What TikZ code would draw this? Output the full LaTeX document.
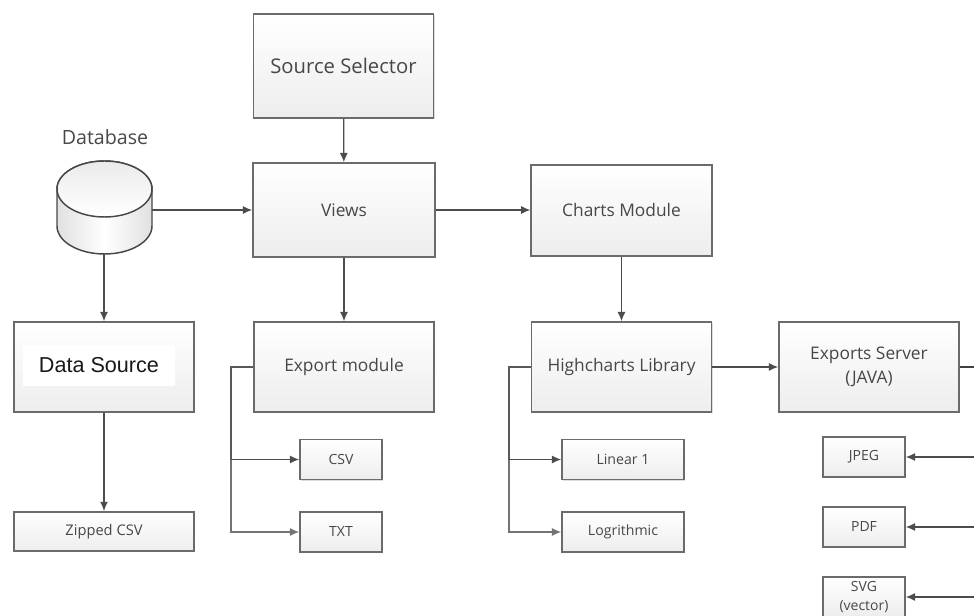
\documentclass[tikz,border=0pt]{standalone}
\usepackage{fontspec}
\setmainfont{Open Sans}
\newfontfamily\arialfont{Liberation Sans}
\usetikzlibrary{arrows.meta,shadows,calc}
\tikzset{
  x=0.75pt,y=-0.75pt,
  boxbase/.style={draw=black!58,line width=1.1pt,rectangle,inner sep=0pt,align=center,text=black!72,
    top color=white,bottom color=black!7,
    drop shadow={shadow xshift=0.9pt,shadow yshift=-0.9pt,fill=black!22,opacity=0.6}},
  bigbox/.style={boxbase,minimum width=135pt,minimum height=67.5pt,font=\fontsize{13}{18}\selectfont},
  smallbox/.style={boxbase,minimum width=61.5pt,minimum height=30pt,font=\fontsize{10.5}{15}\selectfont},
  widebox/.style={boxbase,minimum width=91.5pt,minimum height=30pt,font=\fontsize{10.6}{15}\selectfont},
  conn/.style={draw=black!70,line width=0.95pt,-{Latex[length=7pt,width=6pt]}},
  branch/.style={draw=black!65,line width=1.3pt},
  label/.style={font=\fontsize{14.7}{18}\selectfont,text=black!72}
}
\begin{document}
\begin{tikzpicture}
\useasboundingbox (0,0) rectangle (974,616);
\clip (0,0) rectangle (974,616);
\fill[white] (0,0) rectangle (974,616);
% boxes
\node[bigbox,minimum height=78pt,font=\fontsize{15.2}{18}\selectfont] (source) at (343.5,66) {Source Selector};
\node[bigbox,minimum width=136.5pt,minimum height=70.5pt] (views) at (344,210) {Views};
\node[bigbox,minimum width=135.5pt,minimum height=68.5pt] (charts) at (621.5,210.5) {Charts Module};
\node[bigbox] (datasrc) at (104,367) {};
\node[fill=white,minimum width=114pt,minimum height=30pt,inner sep=0pt,font=\arialfont\fontsize{16.2}{18}\selectfont,text=black!90] (dslabel) at (99,365.5) {Data Source};
\node[bigbox] (export) at (344,367) {Export module};
\node[bigbox] (high) at (621.5,367) {Highcharts Library};
\node[bigbox] (server) at (869,367) {Exports Server\\(JAVA)};
\node[boxbase,minimum width=135pt,minimum height=29.5pt,font=\fontsize{11}{15}\selectfont] (zip) at (104,531.5) {Zipped CSV};
\node[smallbox] (csv) at (341,459.5) {CSV};
\node[smallbox] (txt) at (341,532) {TXT};
\node[widebox] (lin) at (623,459.5) {Linear 1};
\node[widebox] (log) at (623,532) {Logrithmic};
\node[smallbox] (jpeg) at (864,457) {JPEG};
\node[smallbox] (pdf) at (864,527) {PDF};
\node[smallbox,font=\fontsize{10.5}{14.5}\selectfont] (svg) at (864,597) {SVG\\(vector)};
% database
\node[minimum width=72pt,minimum height=70.5pt,inner sep=0pt] (db) at (104,207) {};
\draw[draw=black!72,line width=1.1pt,left color=black!12,right color=black!12,middle color=white]
  (57,189) -- (57,226) arc[start angle=180,end angle=0,x radius=47.5,y radius=28] -- (152,189)
  arc[start angle=0,end angle=-180,x radius=47.5,y radius=28] -- cycle;
\draw[draw=black!72,line width=1.1pt,top color=black!8,bottom color=white]
  (104.5,189) ellipse[x radius=47.5,y radius=28];
\node[label] (dbl) at (105,137) {Database};
% right edge
\coordinate (edgeS) at (974,367);
\coordinate (edgeJ) at (974,457);
\coordinate (edgeP) at (974,527);
\coordinate (edgeV) at (974,597);
% connectors
\draw[conn] (source) -- (views);
\draw[conn] (db.east |- views.west) -- (views.west);
\draw[conn] (db.south) -- (datasrc.north);
\draw[conn] (views.east) -- (charts.west |- views.east);
\draw[conn] (views) -- (export);
\draw[conn] (charts) -- (high);
\draw[conn] (high) -- (server);
\draw[conn] (datasrc) -- (zip);
\draw[draw=black!75,line width=1.5pt] (server) -- (edgeS);
\draw[conn] (edgeJ) -- (jpeg);
\draw[conn] (edgeP) -- (pdf);
\draw[conn] (edgeV) -- (svg);
\coordinate (ex) at (231,367);
\coordinate (hx) at (509,367);
\draw[branch] (export.west) -- (ex) -- (ex |- csv.west);
\draw[conn] (ex |- csv.west) -- (csv.west);
\draw[conn,draw=black!55] (ex |- csv.west) -- (ex |- txt.west) -- (txt.west);
\draw[branch] (high.west) -- (hx) -- (hx |- lin.west);
\draw[conn] (hx |- lin.west) -- (lin.west);
\draw[conn,draw=black!55] (hx |- lin.west) -- (hx |- log.west) -- (log.west);
\end{tikzpicture}
\end{document}
